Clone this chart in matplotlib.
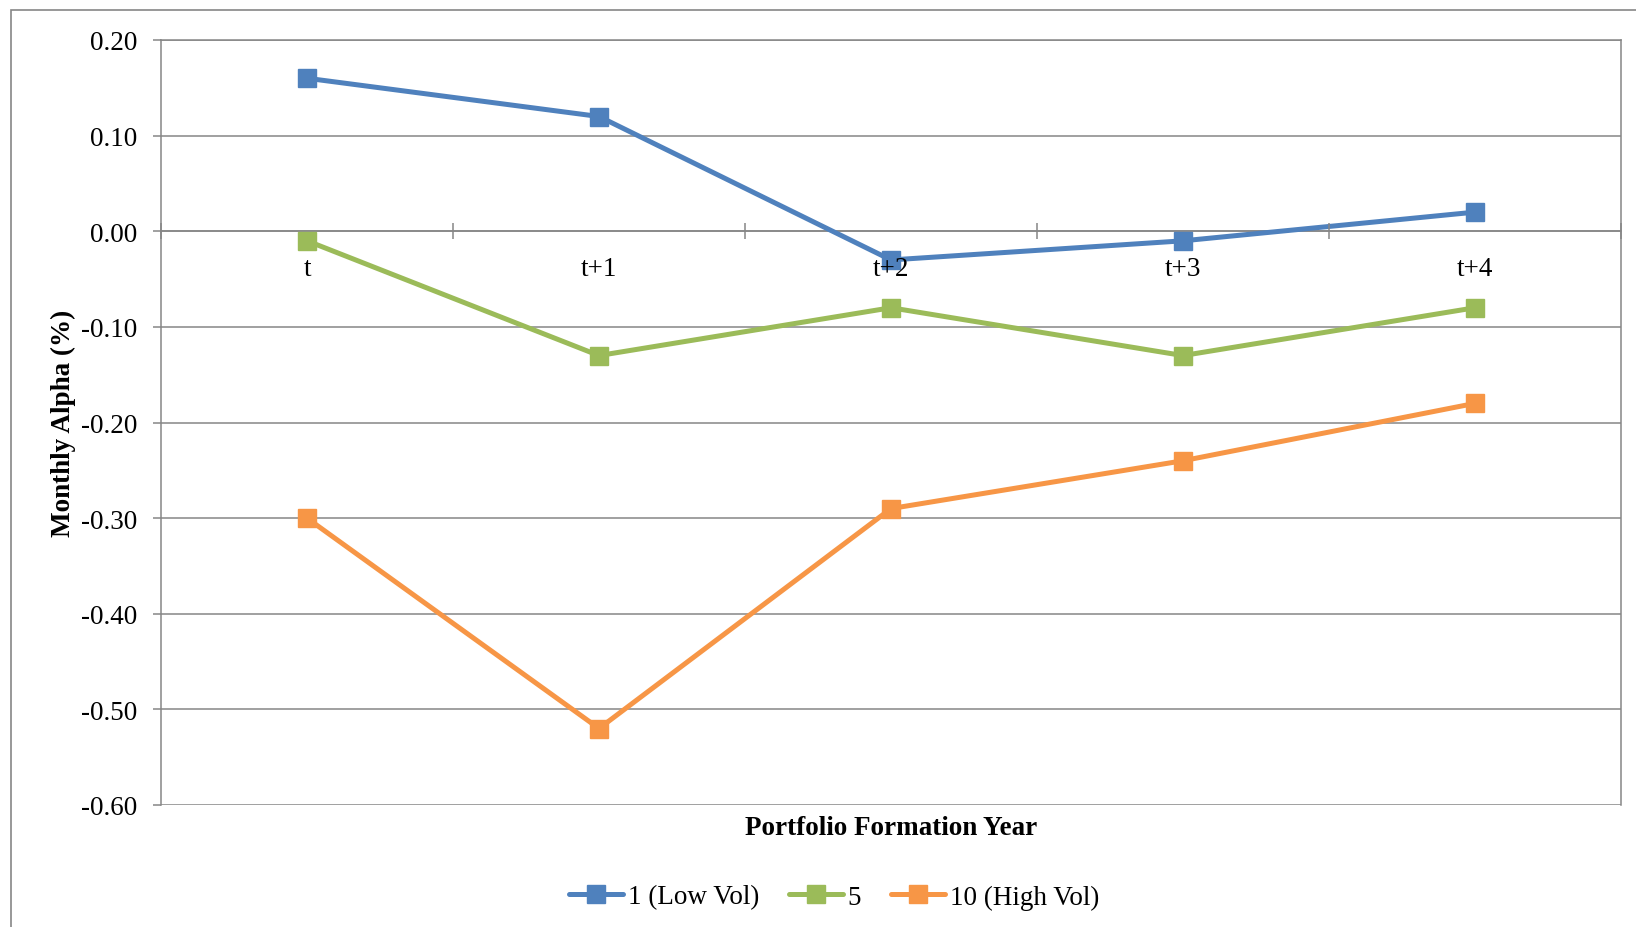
import matplotlib
matplotlib.use("Agg")
import matplotlib.pyplot as plt
from matplotlib.patches import Rectangle

# Portfolio formation years and monthly alphas (%) per volatility decile
years = ["t", "t+1", "t+2", "t+3", "t+4"]
low_vol = [0.16, 0.12, -0.03, -0.01, 0.02]
mid_vol = [-0.01, -0.13, -0.08, -0.13, -0.08]
high_vol = [-0.30, -0.52, -0.29, -0.24, -0.18]
series_names = ["1 (Low Vol)", "5", "10 (High Vol)"]
y_ticks = [0.20, 0.10, 0.00, -0.10, -0.20, -0.30, -0.40, -0.50, -0.60]

colors = ["#4F81BD", "#9BBB59", "#F79646"]
grey = "#868686"

plt.rcParams["font.family"] = ["Liberation Serif", "DejaVu Serif"]
FS = 19.5

W, H = 1636, 928
fig = plt.figure(figsize=(W / 100, H / 100), dpi=100)

# outer chart frame (runs off the right and bottom edges)
fig.patches.append(Rectangle((11 / W, -0.2), 1.2, 1.2 - 11 / H,
                             transform=fig.transFigure, fill=False,
                             edgecolor=grey, linewidth=1.2))

left, right, top, bottom = 161 / W, 1621 / W, 1 - 41 / H, 1 - 806 / H
ax = fig.add_axes([left, bottom, right - left, top - bottom])

x = list(range(len(years)))
for vals, name, c in zip([low_vol, mid_vol, high_vol], series_names, colors):
    ax.plot(x, vals, color=c, linewidth=3.6, marker="s", markersize=13.5,
            markerfacecolor=c, markeredgecolor=c, label=name, zorder=3,
            solid_joinstyle="round", solid_capstyle="round")

ax.set_xlim(-0.5, len(years) - 0.5)
ax.set_ylim(-0.6, 0.2)
ax.set_yticks(y_ticks)
ax.set_yticklabels([f"{v:.2f}" for v in y_ticks])
ax.yaxis.grid(True, color=grey, linewidth=1.1)
ax.set_axisbelow(True)

# category axis sits on the zero line, labels drawn over the series
ax.spines["bottom"].set_position(("data", 0))
for s in ax.spines.values():
    s.set_color(grey)
    s.set_linewidth(1.1)
ax.spines["bottom"].set_zorder(1)
ax.xaxis.set_zorder(4)

ax.set_xticks(x)
ax.set_xticklabels(years)
ax.set_xticks([i + 0.5 for i in range(-1, len(years))], minor=True)
ax.tick_params(axis="x", which="major", length=0, pad=17.5, labelsize=FS,
               labelcolor="black")
ax.tick_params(axis="x", which="minor", direction="inout", length=12,
               width=1.1, color=grey)
ax.tick_params(axis="y", which="major", direction="out", length=6, width=1.1,
               color=grey, pad=11, labelsize=FS, labelcolor="black")

fig.text(63 / W, 1 - 423 / H, "Monthly Alpha (%)", rotation=90,
         ha="center", va="center", fontsize=FS, fontweight="bold")
fig.text(891 / W, 1 - 829 / H, "Portfolio Formation Year",
         ha="center", va="center", fontsize=FS, fontweight="bold")

handles, labels = ax.get_legend_handles_labels()
leg = fig.legend(handles, labels, loc="center", bbox_to_anchor=(834 / W, 1 - 898 / H),
                 ncol=3, frameon=False, fontsize=FS, handlelength=2.0,
                 handletextpad=0.18, columnspacing=1.1, borderpad=0)

fig.savefig("out.png", dpi=100)
